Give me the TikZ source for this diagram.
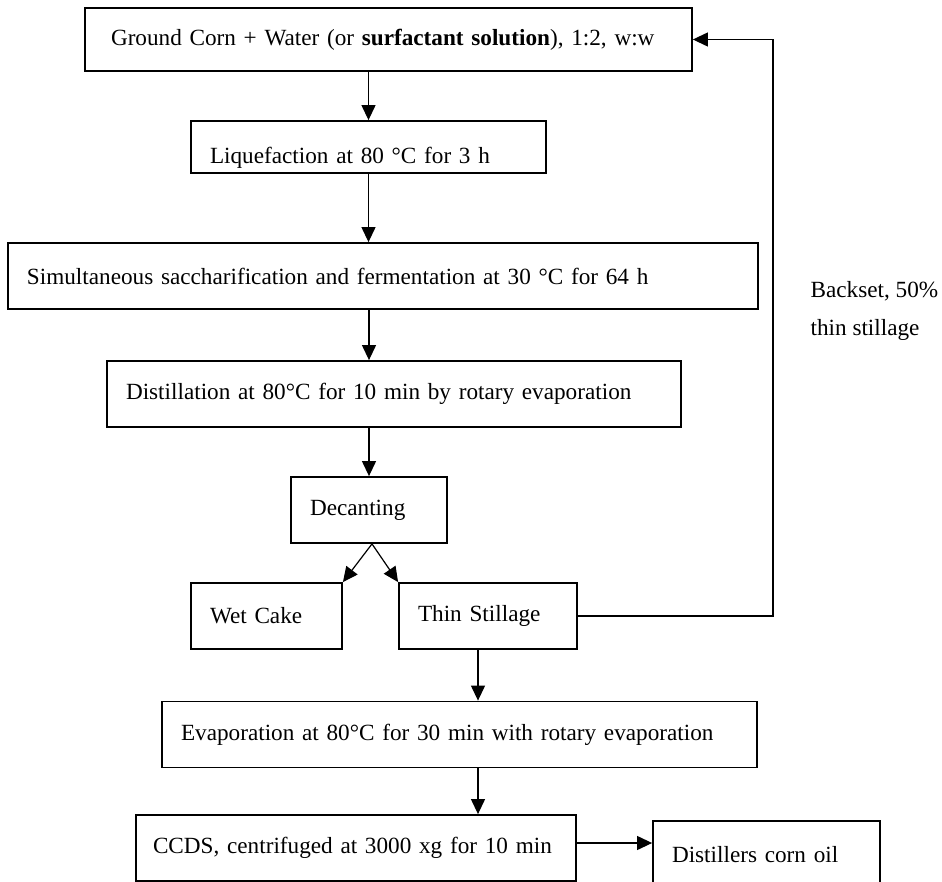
\documentclass[tikz,border=0pt]{standalone}
\usepackage{fontspec}
\setmainfont{Liberation Serif}
\usetikzlibrary{arrows.meta,positioning}

\begin{document}
\begin{tikzpicture}[x=1pt, y=-1pt, line width=1.2pt, black,
    >={Triangle[length=15pt, width=14pt]},
    font=\fontsize{23.2}{28}\selectfont]
    \useasboundingbox (0,0) rectangle (942,882);
    \clip (0,0) rectangle (942,882);

    %Nodes
    \begin{scope}[every node/.style={rectangle, draw=black, line width=1.8pt, align=left, inner xsep=19pt, inner ysep=0pt, minimum height=66pt}]
    \node (corn) [text width=555pt, inner xsep=26pt, minimum height=63pt] at (388.5,39.5) {Ground Corn + Water (or \textbf{surfactant solution}), 1:2, w:w};
    \node (liq)  [text width=317pt, minimum height=52pt, text height=33pt, text depth=0pt] at (368.5,147) {Liquefaction at 80 °C for 3 h};
    \node (ssf)  [text width=712pt] at (383,276) {Simultaneous saccharification and fermentation at 30 °C for 64 h};
    \node (dist) [text width=536pt] at (394,394) {Distillation at 80°C for 10 min by rotary evaporation};
    \node (dec)  [text width=118pt] at (369,510) {Decanting};
    \node (wet)  [text width=113pt] at (266.5,616) {Wet Cake};
    \node (thin) [text width=140pt] at (488,616) {Thin Stillage};
    \node (evap) [text width=557pt] at (459.5,734.5) {Evaporation at 80°C for 30 min with rotary evaporation};
    \node (ccds) [text width=406pt, inner xsep=17pt] at (356,848) {CCDS, centrifuged at 3000 xg for 10 min};
    \node (oil)  [text width=189pt, minimum height=68pt] at (766.5,855) {Distillers corn oil};
    \end{scope}

    % Text label (outside nodes)
    \node (backset) [align=left, anchor=west, inner sep=0pt, font=\fontsize{23.2}{38}\selectfont] at (810,311) {Backset, 50\%\\thin stillage};

    %Lines
    \draw[->] (corn.south -| liq.north) -- (liq.north);
    \draw[->] (liq.south) -- (liq.south |- ssf.north);
    \draw[->] (ssf.south -| dec.north) -- (dist.north -| dec.north);
    \draw[->] (dist.south -| dec.north) -- (dec.north);
    \draw[->] ([xshift=3pt]dec.south) -- (wet.north east);
    \draw[->] ([xshift=3pt]dec.south) -- (thin.north west);
    \draw[->] ([xshift=-10pt]thin.south) -- ([xshift=-10pt]thin.south |- evap.north);
    \draw[->] ([xshift=-10pt]thin.south |- evap.south) -- ([xshift=-10pt]thin.south |- ccds.north);
    \draw[->] ([yshift=5pt]ccds.east) -- ([yshift=5pt]ccds.east -| oil.west);
    \draw[->] (thin.east) -- ++(195,0) |- (corn.east);
\end{tikzpicture}
\end{document}
